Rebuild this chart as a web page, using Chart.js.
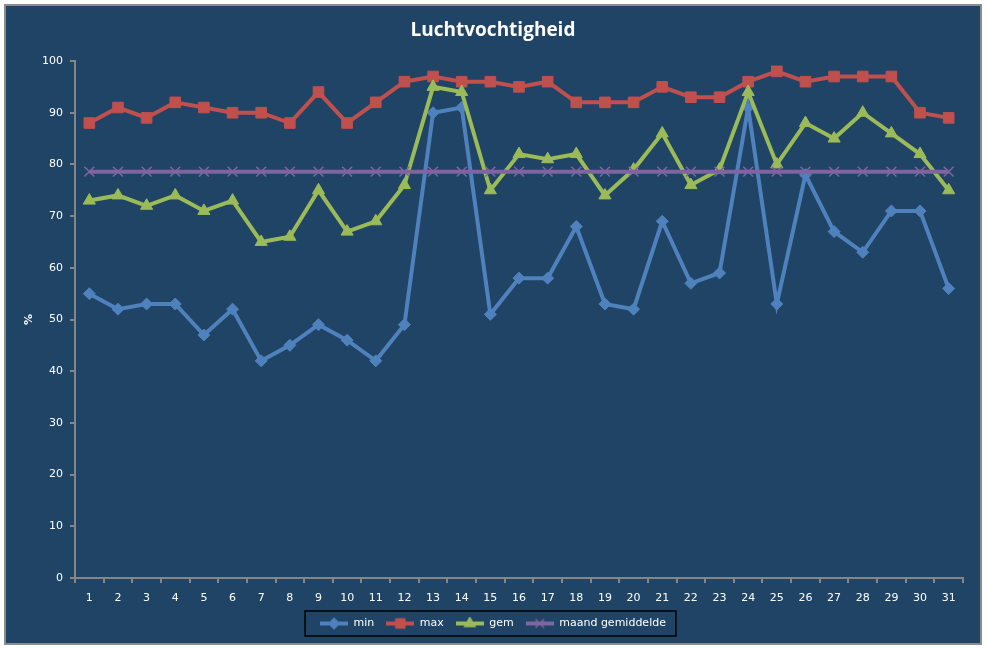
<!DOCTYPE html>
<html>
<head>
<meta charset="utf-8">
<script src="https://cdn.jsdelivr.net/npm/chart.js@4.4.0/dist/chart.umd.min.js"></script>
<style>
  body { margin: 0; background: #ffffff; }
  #kader {
    position: absolute; left: 4px; top: 4px;
    width: 974px; height: 637px;
    border: 2px solid #8c8c8c;
    background: #1f4466;
  }
</style>
</head>
<body>
<div id="kader"><canvas id="grafiek"></canvas></div>
<script>
// Dagen van de maand (x-as)
const dagen = ['1','2','3','4','5','6','7','8','9','10','11','12','13','14','15','16',
               '17','18','19','20','21','22','23','24','25','26','27','28','29','30','31'];

// Waarden (%)
const minWaarden = [55, 52, 53, 53, 47, 52, 42, 45, 49, 46, 42, 49, 90, 91, 51, 58,
                    58, 68, 53, 52, 69, 57, 59, 91, 53, 78, 67, 63, 71, 71, 56];
const maxWaarden = [88, 91, 89, 92, 91, 90, 90, 88, 94, 88, 92, 96, 97, 96, 96, 95,
                    96, 92, 92, 92, 95, 93, 93, 96, 98, 96, 97, 97, 97, 90, 89];
const gemWaarden = [73, 74, 72, 74, 71, 73, 65, 66, 75, 67, 69, 76, 95, 94, 75, 82,
                    81, 82, 74, 79, 86, 76, 79, 94, 80, 88, 85, 90, 86, 82, 75];
const maandGemiddelde = [78.6, 78.6, 78.6, 78.6, 78.6, 78.6, 78.6, 78.6, 78.6, 78.6, 78.6,
                         78.6, 78.6, 78.6, 78.6, 78.6, 78.6, 78.6, 78.6, 78.6, 78.6, 78.6,
                         78.6, 78.6, 78.6, 78.6, 78.6, 78.6, 78.6, 78.6, 78.6];

// Tick labels van de y-as
const yLabels = ['0', '10', '20', '30', '40', '50', '60', '70', '80', '90', '100'];

const asKleur = '#868686';

Chart.defaults.font.family = "'DejaVu Sans', Verdana, sans-serif";
Chart.defaults.font.size = 11;
Chart.defaults.color = '#ffffff';

// Legenda-icoon: lijntje met het marker-symbool in het midden
function legendaTeken(kleur, stijl, straal) {
    const c = document.createElement('canvas');
    c.width = 28;
    c.height = 14;
    const ctx = c.getContext('2d');
    ctx.strokeStyle = kleur;
    ctx.fillStyle = kleur;
    ctx.lineWidth = 4;
    ctx.beginPath();
    ctx.moveTo(0, 7);
    ctx.lineTo(28, 7);
    ctx.stroke();
    ctx.lineWidth = 1.5;
    Chart.helpers.drawPoint(ctx, { pointStyle: stijl, radius: straal * 0.85, rotation: 0, borderWidth: 1.5 }, 14, 7);
    return c;
}

function reeks(label, data, kleur, stijl, straal, volgorde) {
    return {
        label: label,
        data: data,
        borderColor: kleur,
        backgroundColor: kleur,
        borderWidth: 4,
        pointStyle: stijl,
        pointRadius: straal,
        pointHoverRadius: straal,
        pointBorderWidth: stijl === 'crossRot' ? 1.5 : 1,
        pointBorderColor: kleur,
        pointBackgroundColor: kleur,
        tension: 0,
        fill: false,
        order: volgorde,
        legendaIcoon: legendaTeken(kleur, stijl, straal)
    };
}

// Titel en legenda centreren over de volle breedte (zoals het origineel)
const volleBreedte = {
    id: 'volleBreedte',
    afterLayout(chart) {
        [chart.titleBlock, chart.legend].forEach(b => {
            if (!b) return;
            b.left = 0;
            b.right = chart.width;
            b.width = chart.width;
        });
    }
};

// Zwart kader rond de legenda
const legendaKader = {
    id: 'legendaKader',
    afterDraw(chart) {
        const boxes = chart.legend.legendHitBoxes;
        if (!boxes || !boxes.length) return;
        const ctx = chart.ctx;
        const links = Math.min(...boxes.map(b => b.left)) - 15;
        const rechts = Math.max(...boxes.map(b => b.left + b.width)) + 10;
        const boven = boxes[0].top - 7;
        const onder = boxes[0].top + boxes[0].height + 7;
        ctx.save();
        ctx.strokeStyle = '#000000';
        ctx.lineWidth = 1.5;
        ctx.strokeRect(links, boven, rechts - links, onder - boven);
        ctx.restore();
    }
};

new Chart(document.getElementById('grafiek'), {
    type: 'line',
    data: {
        labels: dagen,
        datasets: [
            reeks('min', minWaarden, '#4f81bd', 'rectRot', 6, 4),
            reeks('max', maxWaarden, '#c0504d', 'rect', 7.5, 3),
            reeks('gem', gemWaarden, '#9bbb59', 'triangle', 7, 2),
            reeks('maand gemiddelde', maandGemiddelde, '#8064a2', 'crossRot', 7, 1)
        ]
    },
    options: {
        responsive: true,
        maintainAspectRatio: false,
        animation: false,
        layout: { padding: { top: 0, right: 17, bottom: 4, left: 0 } },
        plugins: {
            title: {
                display: true,
                text: 'Luchtvochtigheid',
                color: '#ffffff',
                font: { family: 'Open Sans', size: 19, weight: 'bold' },
                padding: { top: 13.6, bottom: 18.6 }
            },
            legend: {
                position: 'bottom',
                labels: {
                    usePointStyle: true,
                    pointStyleWidth: 28,
                    padding: 12,
                    color: '#ffffff',
                    font: { size: 11 },
                    generateLabels(chart) {
                        return chart.data.datasets.map((ds, i) => ({
                            text: ds.label,
                            fillStyle: ds.borderColor,
                            strokeStyle: ds.borderColor,
                            fontColor: '#ffffff',
                            pointStyle: ds.legendaIcoon,
                            lineWidth: 0,
                            hidden: false,
                            datasetIndex: i
                        }));
                    }
                }
            },
            tooltip: { enabled: false }
        },
        scales: {
            x: {
                type: 'category',
                offset: true,
                afterFit(scale) { scale.height = 28; },
                grid: {
                    display: true,
                    offset: true,
                    drawOnChartArea: false,
                    drawTicks: true,
                    tickLength: 5,
                    color: asKleur,
                    lineWidth: 2
                },
                border: { display: true, color: asKleur, width: 2 },
                ticks: { color: '#ffffff', padding: 9, maxRotation: 0, autoSkip: false }
            },
            y: {
                min: 0,
                max: 100,
                afterFit(scale) { scale.width = 69; },
                grid: {
                    display: true,
                    drawOnChartArea: false,
                    drawTicks: true,
                    tickLength: 5,
                    color: asKleur,
                    lineWidth: 2
                },
                border: { display: true, color: asKleur, width: 2 },
                ticks: {
                    stepSize: 10,
                    color: '#ffffff',
                    padding: 7,
                    callback: (v, i) => yLabels[i]
                },
                title: {
                    display: true,
                    text: '%',
                    color: '#ffffff',
                    font: { size: 11, weight: 'bold' },
                    padding: { top: 17, bottom: 0 }
                }
            }
        }
    },
    plugins: [volleBreedte, legendaKader]
});
</script>
</body>
</html>
